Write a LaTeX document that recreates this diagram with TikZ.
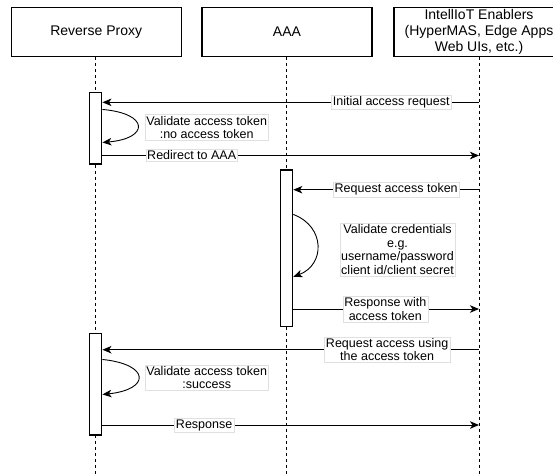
\documentclass[tikz,border=0pt]{standalone}
\usepackage{fontspec}
\setmainfont{Liberation Sans}
\usetikzlibrary{arrows.meta, positioning, calc}
\tikzset{
  actor/.style={draw, line width=1.1pt, minimum width=170pt, minimum height=48.7pt, inner sep=0pt, align=center, font=\fontsize{14}{16.3}\selectfont},
  lifeline/.style={line width=1pt, dash pattern=on 3pt off 3pt},
  actbar/.style={draw, fill=white, line width=1.1pt, minimum width=12.4pt, inner sep=0pt},
  msg/.style={line width=0.9pt, -{Stealth[length=9pt, width=7.5pt, inset=2.5pt]}},
  lbl/.style={fill=white, draw=black!12, line width=0.4pt, inner sep=1.5pt, align=center, font=\fontsize{12.5}{13.5}\selectfont}
}
\begin{document}
\begin{tikzpicture}[x=1pt, y=-1pt]
  \useasboundingbox (0,0) rectangle (553,475);
  \clip (0,0) rectangle (553,475);

  \node[actor] (proxy) at (96.2,31.7) {Reverse Proxy};
  \node[actor] (aaa) at (287,31.7) {AAA};
  \node[actor] (iot) at (479,31.7) {IntellIoT Enablers\\(HyperMAS, Edge Apps\\Web UIs, etc.)};

  \coordinate (proxyEnd) at (95.7,475);
  \coordinate (aaaEnd) at (286.7,475);
  \coordinate (iotEnd) at (479,475);
  \draw[lifeline] (proxy.south -| proxyEnd) -- (proxyEnd);
  \draw[lifeline] (aaa.south -| aaaEnd) -- (aaaEnd);
  \draw[lifeline] (iot.south) -- (iotEnd);

  \node[actbar, minimum height=71.5pt] (actA) at (95.7,128.25) {};
  \node[actbar, minimum height=156.7pt] (actB) at (286.6,248.35) {};
  \node[actbar, minimum height=101.7pt] (actC) at (95.7,384.15) {};

  \coordinate (m1) at (479,102.3);
  \coordinate (m3) at (479,155.5);
  \coordinate (m4) at (479,189.7);
  \coordinate (m6) at (479,309);
  \coordinate (m7) at (479,349.7);
  \coordinate (m9) at (479,425);

  \draw[msg] (m1) -- (m1 -| actA.east) node[lbl, pos=0.233] {Initial access request};
  \draw[msg] ([yshift=-17.5pt]actA.north east) .. controls +(47,4) and +(47,-4) .. ([yshift=-50.5pt]actA.north east);
  \node[lbl] (chk1) at (206.7,127.5) {Validate access token\\:no access token};
  \draw[msg] (m3 -| actA.east) -- (m3) node[lbl, pos=0.237] {Redirect to AAA};

  \draw[msg] (m4) -- (m4 -| actB.east) node[lbl, pos=0.446] {Request access token};
  \draw[msg] ([yshift=-45pt]actB.north east) .. controls +(32,12) and +(32,-12) .. ([yshift=-107.3pt]actB.north east);
  \node[lbl] (chk2) at (397.5,249.7) {Validate credentials\\e.g.\\username/password\\client id/client secret};
  \draw[msg] (m6 -| actB.east) -- (m6) node[lbl, pos=0.495] {Response with\\access token};

  \draw[msg] (m7) -- (m7 -| actC.east) node[lbl, pos=0.244] {Request access using\\the access token};
  \draw[msg] ([yshift=-26.7pt]actC.north east) .. controls +(48,5) and +(48,-5) .. ([yshift=-61.7pt]actC.north east);
  \node[lbl] (chk3) at (206.7,377.7) {Validate access token\\:success};
  \draw[msg] (m9 -| actC.east) -- (m9) node[lbl, pos=0.270] {Response};
\end{tikzpicture}
\end{document}
